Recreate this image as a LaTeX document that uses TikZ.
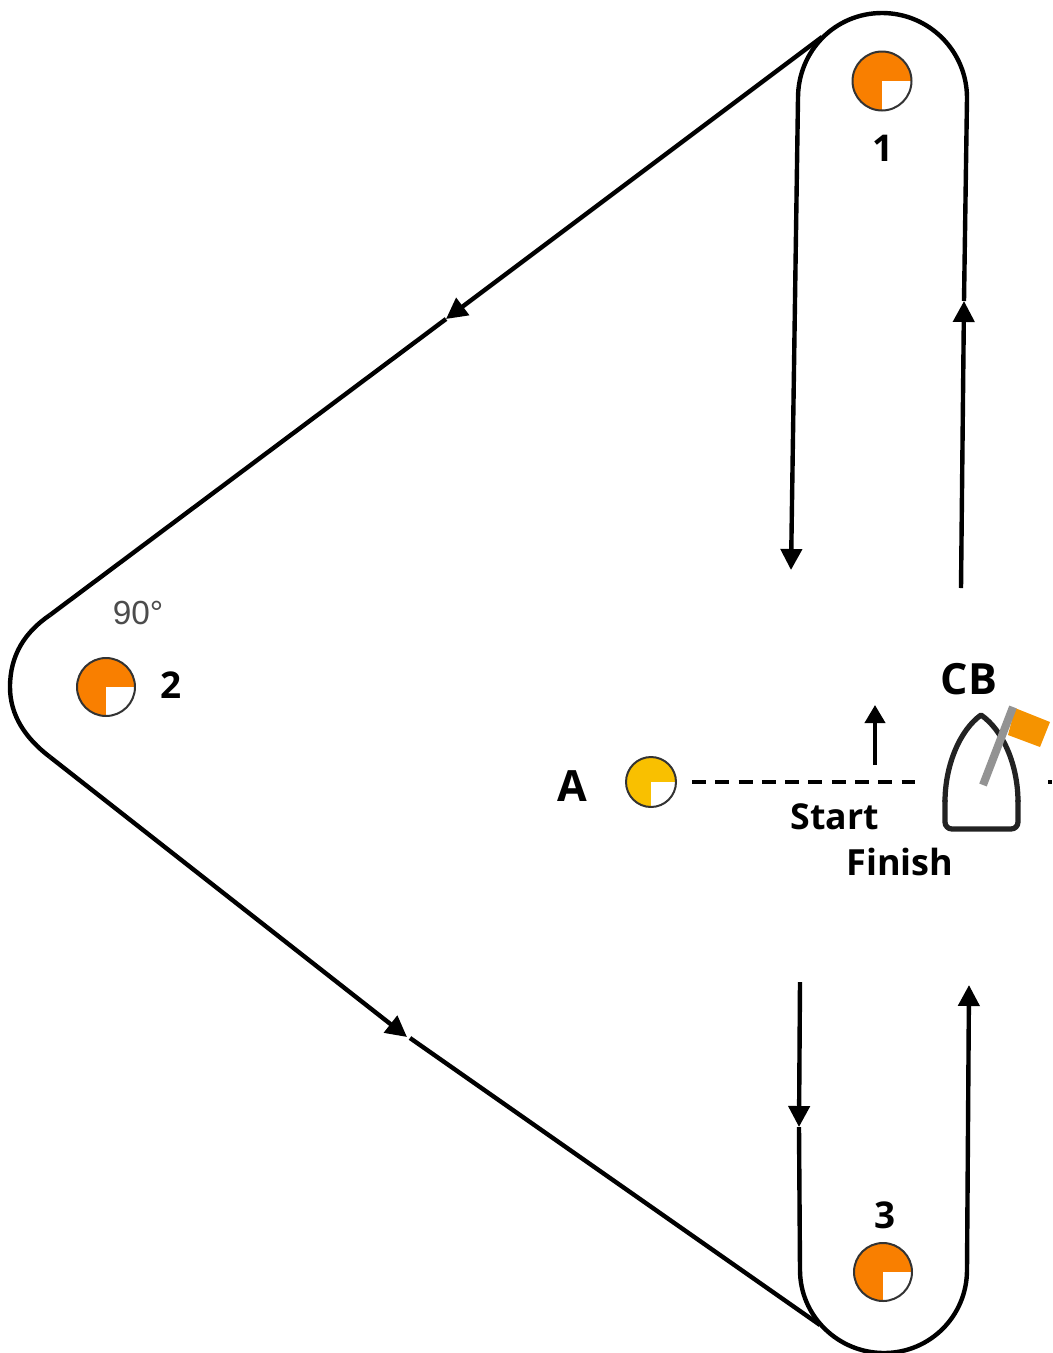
\documentclass[tikz,border=0pt]{standalone}
\usepackage{fontspec}
\setmainfont{Open Sans}
\newfontfamily\anglefont{Liberation Sans}
\usetikzlibrary{arrows.meta}
\definecolor{buoyorange}{HTML}{F97F00}
\definecolor{buoyyellow}{HTML}{F9C000}
\definecolor{flagorange}{HTML}{F59300}
\definecolor{hullgrey}{HTML}{222222}
\tikzset{
  buoy/.style={circle, inner sep=0pt, minimum size=#1, draw=black!80, line width=0.04cm,
    path picture={\fill[white] (path picture bounding box.center) rectangle (path picture bounding box.south east);}},
  track/.style={line width=0.088cm, black},
  tip/.style={-{Triangle[width=0.42cm, length=0.42cm]}},
  label/.style={inner sep=0pt, font=\bfseries\fontsize{#1}{#1}\selectfont},
}

\begin{document}
\begin{tikzpicture}[x=0.02cm, y=-0.02cm]
\useasboundingbox (0,0) rectangle (1052,1353);

% course points
\coordinate (topl) at (798,98);
\coordinate (topr) at (967,98);
\coordinate (topend) at (791,570);
\coordinate (upstart) at (961,588);
\coordinate (upmid) at (964,301);
\coordinate (legtop) at (822,37);
\coordinate (legmid) at (446,319);
\coordinate (left1) at (50,615);
\coordinate (left2) at (50,757);
\coordinate (downmid) at (407,1037);
\coordinate (downgap) at (410,1038);
\coordinate (legbot) at (820,1325);
\coordinate (botl) at (800,1270);
\coordinate (botr) at (967,1270);
\coordinate (botstart) at (800,982);
\coordinate (botmid) at (799,1127);
\coordinate (botend) at (969,985);
\coordinate (lineA) at (692,782);
\coordinate (lineB) at (915,782);
\coordinate (lineC) at (1048,782);
\coordinate (lineD) at (1052,782);
\coordinate (startfoot) at (875,765);
\coordinate (starttip) at (875,705);

% buoys
\node[buoy=1.18cm, fill=buoyorange] (mark1) at (882,81) {};
\node[buoy=1.16cm, fill=buoyorange] (mark2) at (106,687) {};
\node[buoy=1.16cm, fill=buoyorange] (mark3) at (883,1272) {};
\node[buoy=1cm, fill=buoyyellow] (markA) at (651,782) {};

% the course
\draw[track] (topl) .. controls (798,51) and (835,13) .. (882,13) .. controls (929,13) and (967,51) .. (topr);
\draw[track, tip] (topl) -- (topend);
\draw[track, tip] (upstart) -- (upmid);
\draw[track] (upmid) -- (topr);
\draw[track, tip] (legtop) -- (legmid);
\draw[track] (legmid) -- (left1);
\draw[track] (left1) .. controls (25,632) and (10,655) .. (10,687) .. controls (10,715) and (25,738) .. (left2);
\draw[track, tip] (left2) -- (downmid);
\draw[track] (downgap) -- (legbot);
\draw[track] (botl) .. controls (800,1316) and (838,1353) .. (884,1353) .. controls (930,1353) and (967,1316) .. (botr);
\draw[track, tip] (botstart) -- (botmid);
\draw[track] (botmid) -- (botl);
\draw[track, tip] (botr) -- (botend);

% start line
\draw[line width=0.065cm, dash pattern=on 0.28cm off 0.186cm] (lineA) -- (lineB);
\draw[line width=0.065cm] (lineC) -- (lineD);
\draw[line width=0.08cm, -{Triangle[width=0.4cm, length=0.36cm]}] (startfoot) -- (starttip);

% committee boat
\draw[line width=0.105cm, hullgrey, rounded corners=0.14cm] (945,800) -- (945,829) -- (1018,829) -- (1018,800);
\draw[line width=0.105cm, hullgrey, line join=round] (945,802) .. controls (945,765) and (960,730) .. (981,715) .. controls (1003,730) and (1018,765) .. (1018,802);
\fill[flagorange] (1015,708) -- (1050,722) -- (1040,747) -- (1008,735) -- cycle;
\draw[line width=0.16cm, gray!85] (983,785) -- (1013,707);

% labels
\node[label=24.5pt] (textA) at (572,786) {A};
\node[label=24.5pt] (textCB) at (969,679) {CB};
\node[label=20.3pt] (textstart) at (835,817) {Start};
\node[label=20.5pt] (textfinish) at (900,862) {Finish};
\node[label=21pt] (text1) at (883,148) {1};
\node[label=21pt] (text2) at (171,685) {2};
\node[label=21pt] (text3) at (885,1215) {3};
\node[inner sep=0pt, text=black!70, font=\anglefont\fontsize{19pt}{19pt}\selectfont] (textangle) at (138,613) {90°};

\end{tikzpicture}
\end{document}
